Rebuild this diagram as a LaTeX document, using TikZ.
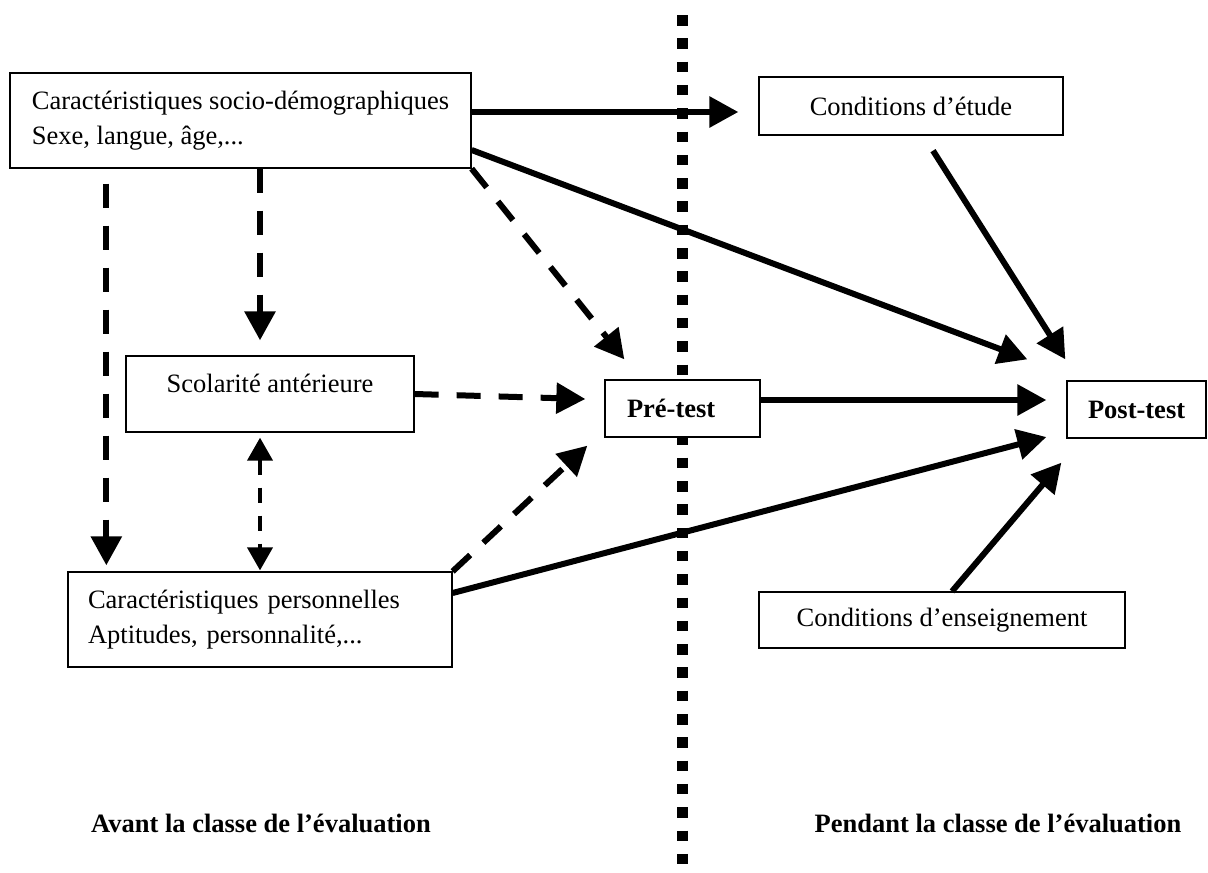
\documentclass[tikz,border=0pt]{standalone}
\usepackage{fontspec}
\setmainfont{Liberation Serif}
\usetikzlibrary{arrows.meta}

\begin{document}
\begin{tikzpicture}[x=1pt, y=-1pt,
    box/.style={draw, line width=1.3pt, fill=white, inner sep=0pt,
      font=\fontsize{26.5}{35}\selectfont},
    lbl/.style={font=\fontsize{26.5}{35}\selectfont\bfseries},
    fleche/.style={line width=6pt, -{Triangle[length=29pt,width=30pt]}},
    tirets/.style={fleche, dash pattern=on 24pt off 18pt},
    petit/.style={line width=4pt, dash pattern=on 15pt off 13pt,
      {Triangle[length=23pt,width=25pt]}-{Triangle[length=23pt,width=25pt]}}]
    \useasboundingbox (0,0) rectangle (1208,873);
    \draw[line width=11pt, dash pattern=on 10.5pt off 12.8pt] (682.5,15) -- (682.5,873);
    \node[box, minimum width=461pt, minimum height=95pt, align=left] (socio) at (240.5,120.5)
        {Caractéristiques socio-démographiques\\Sexe, langue, âge,...};
    \node[box, minimum width=304pt, minimum height=58pt] (etude) at (911,106) {Conditions d’étude};
    \node[box, minimum width=288pt, text height=18pt, text depth=22pt, inner ysep=18pt] (scol) at (270,394)
        {Scolarité antérieure};
    \node[box, font=\fontsize{26.5}{35}\selectfont\bfseries, minimum height=57pt, text width=111pt,
        inner xsep=22pt, align=left] (pre) at (682.5,408.5) {\mbox{Pré-test}};
    \node[box, font=\fontsize{26.5}{35}\selectfont\bfseries, minimum height=57pt, text width=97pt,
        inner xsep=21pt, align=left] (post) at (1136.5,409.5) {\mbox{Post-test}};
    \node[box, minimum height=95pt, text width=344pt, inner xsep=20pt, align=left] (perso) at (260,619.5)
        {Caractéristiques personnelles\\Aptitudes, personnalité,...};
    \node[box, minimum width=366pt, minimum height=56pt] (ens) at (942,620) {Conditions d’enseignement};
    \node[lbl] (avant) at (261,823) {Avant la classe de l’évaluation};
    \node[lbl] (pendant) at (998,823) {Pendant la classe de l’évaluation};
    \draw[fleche] ([shift={(0,-8.5)}]socio.east) -- ([shift={(-20,6)}]etude.west);
    \draw[fleche] ([shift={(0,29.5)}]socio.east) -- ([shift={(-39,-21)}]post.north west);
    \draw[fleche] ([shift={(22,15)}]etude.south) -- ([shift={(-1,-21)}]post.north west);
    \draw[tirets] (socio.south east) -- ([shift={(20,-20)}]pre.north west);
    \draw[tirets] (scol.east) -- ([shift={(-19,-9.5)}]pre.west);
    \draw[fleche] ([shift={(0,-8.5)}]pre.east) -- ([shift={(-20,-9.5)}]post.west);
    \draw[tirets] (perso.north east) -- ([shift={(-17,8)}]pre.south west);
    \draw[fleche] ([shift={(0,-26.5)}]perso.east) -- ([shift={(-20,27.5)}]post.west);
    \draw[fleche] ([shift={(10,0)}]ens.north) -- ([shift={(-5,24)}]post.south west);
    \draw[tirets] ([shift={(97,15)}]socio.south west) -- ([shift={(39,-6)}]perso.north west);
    \draw[tirets] ([shift={(19.5,0)}]socio.south) -- ([shift={(-10,-15)}]scol.north);
    \draw[petit] ([shift={(-10,5)}]scol.south) -- ([shift={(0,-1)}]perso.north);
\end{tikzpicture}
\end{document}
